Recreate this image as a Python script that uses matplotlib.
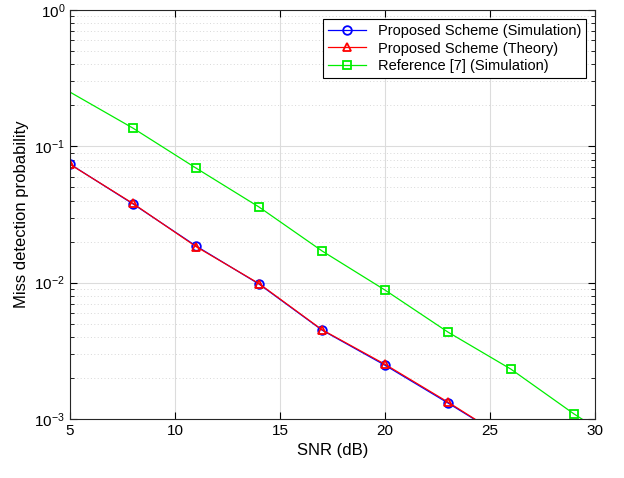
import numpy as np
import matplotlib.pyplot as plt
from matplotlib.ticker import LogLocator, NullFormatter

plt.rcParams['font.family'] = ['Liberation Sans', 'DejaVu Sans']
plt.rcParams['mathtext.fontset'] = 'custom'
plt.rcParams['mathtext.rm'] = 'Liberation Sans'
plt.rcParams['axes.unicode_minus'] = False

# data
snr_prop = [5, 8, 11, 14, 17, 20, 23, 26, 29]
pm_prop_sim = [0.0741, 0.0378, 0.0186, 0.00977, 0.00449, 0.00248, 0.00131, 6.8e-4, 3.5e-4]
pm_prop_theory = [0.0738, 0.0381, 0.0184, 0.00985, 0.00452, 0.00252, 0.00133, 6.8e-4, 3.5e-4]

snr_ref = [5, 8, 11, 14, 17, 20, 23, 26, 29, 32]
pm_ref_sim = [0.25, 0.136, 0.0693, 0.0359, 0.0171, 0.00883, 0.00434, 0.00232, 0.00109, 5.5e-4]

fig = plt.figure(figsize=(6.24, 4.78), dpi=100)
ax = fig.add_axes([0.1122, 0.1234, 0.8413, 0.8556])

ax.semilogy(snr_prop, pm_prop_sim, 'o-', color='blue', lw=0.9, ms=6.2,
            mfc='none', mew=1.3, label='Proposed Scheme (Simulation)')
ax.semilogy(snr_prop, pm_prop_theory, '^-', color='red', lw=0.9, ms=6.2,
            mfc='none', mew=1.3, label='Proposed Scheme (Theory)')
ax.semilogy(snr_ref, pm_ref_sim, 's-', color='#00ee00', lw=0.9, ms=5.5,
            mfc='none', mew=1.3, markevery=list(range(1, len(snr_ref))),
            label='Reference [7] (Simulation)')

ax.set_xlim(5, 30)
ax.set_ylim(1e-3, 1)
ax.set_xticks([5, 10, 15, 20, 25, 30])
ax.yaxis.set_major_locator(LogLocator(base=10, numticks=10))
ax.yaxis.set_minor_locator(LogLocator(base=10, subs=np.arange(2, 10), numticks=10))
ax.yaxis.set_minor_formatter(NullFormatter())

ax.grid(True, which='major', color='#dcdcdc', lw=0.8)
ax.grid(True, which='minor', axis='y', color='#d8d8d8', lw=0.7, ls=(0, (1, 2.5)))
ax.set_axisbelow(True)

ax.tick_params(which='both', direction='in', top=True, right=True, labelsize=11)
ax.tick_params(which='major', length=5)
ax.tick_params(which='minor', length=3)
for s in ax.spines.values():
    s.set_color('#262626')
    s.set_linewidth(0.8)

ax.set_xlabel('SNR (dB)', fontsize=12)
ax.set_ylabel('Miss detection probability', fontsize=12)

leg = ax.legend(loc='upper right', fontsize=10.5, fancybox=False, framealpha=1,
                edgecolor='black', borderaxespad=0.6, handlelength=2.6,
                borderpad=0.35, labelspacing=0.25)
leg.get_frame().set_linewidth(0.8)

fig.savefig('out.png', dpi=100)
